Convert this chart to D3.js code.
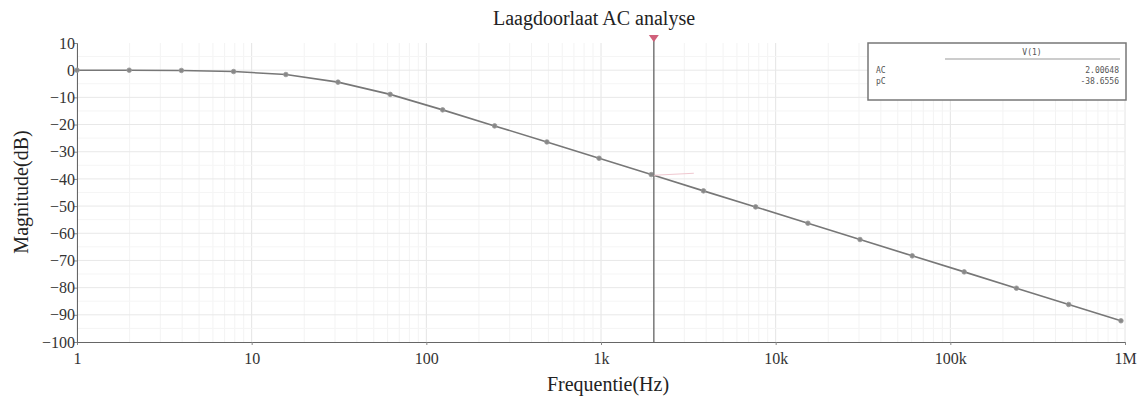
<!DOCTYPE html>
<html>
<head>
<meta charset="utf-8">
<script src="https://cdn.jsdelivr.net/npm/d3@7"></script>
<style>
  body { margin: 0; background: #fff; }
  text { font-family: "Liberation Serif", "Times New Roman", serif; }
</style>
</head>
<body>
<svg id="chart" width="1145" height="400"></svg>
<script>
// sweep points (Hz) and magnitude (dB)
const freqs = [1, 1.99, 3.96, 7.88, 15.7, 31.2, 62.1, 124, 246, 490, 975,
    1940, 3860, 7680, 15300, 30400, 60500, 120000, 239000, 476000, 948000];
const magnitude = [0, 0, -0.1, -0.5, -1.6, -4.4, -8.9, -14.6, -20.5, -26.4, -32.4,
    -38.4, -44.4, -50.3, -56.3, -62.3, -68.3, -74.2, -80.2, -86.2, -92.2];

const xTicks = [1, 10, 100, 1000, 10000, 100000, 1000000];
const xTickLabels = ["1", "10", "100", "1k", "10k", "100k", "1M"];
const yTicks = [10, 0, -10, -20, -30, -40, -50, -60, -70, -80, -90, -100];

// cursor readout
const cursorFreq = 2006.48;
const cursorMag = -38.6556;
const legendRows = [["AC", "2.00648"], ["pC", "-38.6556"]];

const svg = d3.select("#chart");
const margin = { top: 43, right: 20, bottom: 58, left: 77 },
    width = 1145 - margin.left - margin.right,
    height = 400 - margin.top - margin.bottom;

const g = svg.append("g").attr("transform", `translate(${margin.left},${margin.top})`);

const x = d3.scaleLog().domain([1, 1e6]).range([0, width]);
const y = d3.scaleLinear().domain([-100, 10]).range([height, 0]);

// minor grid (log)
const minor = [];
for (let d = 1; d < 1e6; d *= 10) {
    for (let m = 2; m < 10; m++) minor.push(d * m);
}
g.append("g")
    .selectAll("line")
    .data(minor)
    .join("line")
    .attr("x1", (d) => x(d))
    .attr("x2", (d) => x(d))
    .attr("y1", 0)
    .attr("y2", height)
    .attr("stroke", "#f3f3f3")
    .attr("stroke-width", 1);

// major vertical grid
g.append("g")
    .selectAll("line")
    .data(xTicks)
    .join("line")
    .attr("x1", (d) => x(d))
    .attr("x2", (d) => x(d))
    .attr("y1", 0)
    .attr("y2", height)
    .attr("stroke", "#e4e4e4")
    .attr("stroke-width", 1);

// horizontal grid
g.append("g")
    .selectAll("line")
    .data(d3.range(-95, 10, 5))
    .join("line")
    .attr("x1", 0)
    .attr("x2", width)
    .attr("y1", (d) => y(d))
    .attr("y2", (d) => y(d))
    .attr("stroke", (d) => (d % 10 === 0 ? "#e8e8e8" : "#f5f5f5"))
    .attr("stroke-width", 1);

// axes
const xAxis = g.append("g")
    .attr("transform", `translate(0,${height})`)
    .call(d3.axisBottom(x).tickValues(xTicks).tickFormat((d, i) => xTickLabels[i]).tickSize(3));
xAxis.select(".domain").attr("stroke", "#666");
xAxis.selectAll(".tick line").attr("stroke", "#888");
xAxis.selectAll("text")
    .attr("dy", "1.0em")
    .attr("style", "font-family: 'Liberation Serif', serif; font-size: 16px; fill: #333;");

const yAxis = g.append("g")
    .call(d3.axisLeft(y).tickValues(yTicks).tickSize(3).tickFormat(d3.format("d")));
yAxis.select(".domain").attr("stroke", "#666");
yAxis.selectAll(".tick line").attr("stroke", "#888");
yAxis.selectAll("text")
    .attr("x", -2)
    .attr("style", "font-family: 'Liberation Serif', serif; font-size: 16px; fill: #333;");

// curve
const data = freqs.map((f, i) => ({ f: f, m: magnitude[i] }));
g.append("path")
    .datum(data)
    .attr("fill", "none")
    .attr("stroke", "#777")
    .attr("stroke-width", 1.6)
    .attr("d", d3.line().x((d) => x(d.f)).y((d) => y(d.m)));

g.append("g")
    .selectAll("circle")
    .data(data)
    .join("circle")
    .attr("cx", (d) => x(d.f))
    .attr("cy", (d) => y(d.m))
    .attr("r", 2.3)
    .attr("fill", "#888")
    .attr("stroke", "#999")
    .attr("stroke-width", 0.8);

// cursor
const cx = x(cursorFreq);
g.append("line")
    .attr("x1", cx)
    .attr("x2", cx)
    .attr("y1", -6)
    .attr("y2", height)
    .attr("stroke", "#777")
    .attr("stroke-width", 1.5);
g.append("path")
    .attr("d", `M${cx - 5},${-8} L${cx + 5},${-8} L${cx},${-1} Z`)
    .attr("fill", "#d0607a");
g.append("line")
    .attr("x1", cx)
    .attr("x2", cx + 40)
    .attr("y1", y(cursorMag))
    .attr("y2", y(cursorMag) - 2)
    .attr("stroke", "#f0c8d0")
    .attr("stroke-width", 1);

// readout box
const box = svg.append("g").attr("transform", "translate(868,43)");
box.append("rect")
    .attr("width", 258)
    .attr("height", 57)
    .attr("fill", "#fff")
    .attr("stroke", "#777")
    .attr("stroke-width", 1.5);
box.append("text")
    .attr("x", 164)
    .attr("y", 12)
    .attr("text-anchor", "middle")
    .style("font-family", "DejaVu Sans Mono, monospace")
    .style("font-size", "8px")
    .style("fill", "#555")
    .text("V(1)");
box.append("line")
    .attr("x1", 77)
    .attr("x2", 252)
    .attr("y1", 16)
    .attr("y2", 16)
    .attr("stroke", "#999")
    .attr("stroke-width", 1);
box.selectAll(".row")
    .data(legendRows)
    .join("g")
    .attr("class", "row")
    .each(function (d, i) {
        const r = d3.select(this);
        r.append("text")
            .attr("x", 8)
            .attr("y", 30 + i * 11)
            .style("font-family", "DejaVu Sans Mono, monospace")
            .style("font-size", "8px")
            .style("fill", "#555")
            .text(d[0]);
        r.append("text")
            .attr("x", 251)
            .attr("y", 30 + i * 11)
            .attr("text-anchor", "end")
            .style("font-family", "DejaVu Sans Mono, monospace")
            .style("font-size", "8px")
            .style("fill", "#555")
            .text(d[1]);
    });

// titles
svg.append("text")
    .attr("x", 594)
    .attr("y", 25)
    .attr("text-anchor", "middle")
    .style("font-size", "20px")
    .style("fill", "#222")
    .text("Laagdoorlaat AC analyse");

svg.append("text")
    .attr("x", 608)
    .attr("y", 391)
    .attr("text-anchor", "middle")
    .style("font-size", "20px")
    .style("fill", "#222")
    .text("Frequentie(Hz)");

svg.append("text")
    .attr("transform", "translate(28,192) rotate(-90)")
    .attr("text-anchor", "middle")
    .style("font-size", "20px")
    .style("fill", "#222")
    .text("Magnitude(dB)");
</script>
</body>
</html>
